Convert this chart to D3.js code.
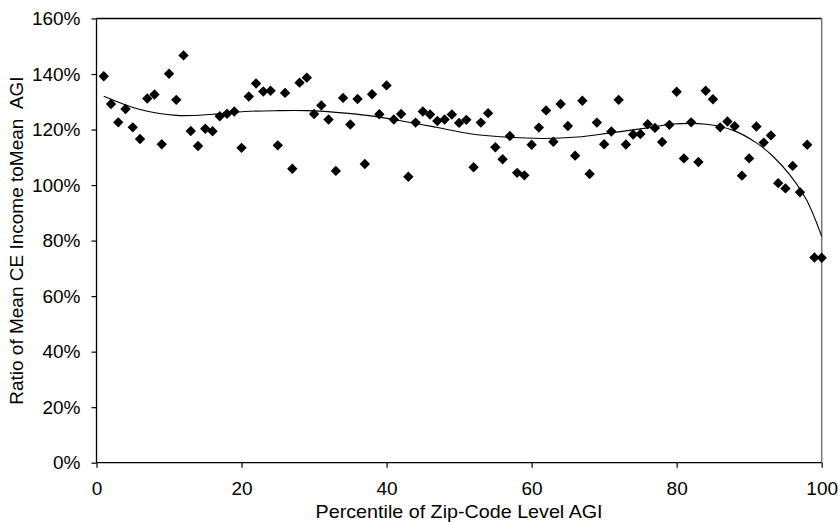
<!doctype html>
<html>
<head>
<style>
body { margin: 0; background: #fff; }
svg { font-family: "Liberation Sans", Arial, sans-serif; }
</style>
<script src="https://d3js.org/d3.v7.min.js"></script>
</head>
<body>
<svg width="840" height="522"></svg>
<script>
// percentile of zip-code level AGI, 1..100
var percentile = d3.range(1, 101);

// ratio of mean CE income to mean AGI (%)
var ratio = [
  139.2, 129.2, 122.6, 127.4, 120.8, 116.6, 131.2, 132.6, 114.7, 140.1,
  130.7, 146.7, 119.5, 114.1, 120.3, 119.4, 124.8, 125.7, 126.5, 113.4,
  131.9, 136.6, 133.7, 134.0, 114.3, 133.2, 105.9, 136.9, 138.7, 125.6,
  128.7, 123.6, 105.1, 131.4, 121.8, 131.0, 107.6, 132.7, 125.5, 135.9,
  123.6, 125.6, 103.0, 122.5, 126.5, 125.4, 123.1, 123.6, 125.4, 122.4,
  123.5, 106.4, 122.5, 125.9, 113.6, 109.3, 117.7, 104.4, 103.5, 114.5,
  120.7, 126.9, 115.6, 129.2, 121.3, 110.6, 130.4, 104.0, 122.5, 114.7,
  119.3, 130.7, 114.6, 118.2, 118.4, 121.9, 120.6, 115.5, 121.7, 133.6,
  109.6, 122.6, 108.3, 134.0, 130.9, 120.8, 122.9, 121.2, 103.4, 109.6,
  121.1, 115.3, 117.9, 100.7, 98.8, 106.9, 97.4, 114.5, 73.9, 73.8
];

// polynomial trend line
var trendX = [1, 6, 11, 16, 20.5, 25, 29, 33, 37.6, 42.3, 46.9, 51.5, 56.2, 61.7, 66.3, 70.9, 76, 79.5, 84.1, 87.8, 91, 93.3, 95.6, 97.9, 100];
var trendY = [132.0, 127.2, 125.1, 125.5, 126.5, 126.8, 126.8, 126.2, 125.0, 123.0, 120.8, 118.5, 117.3, 116.8, 117.3, 118.8, 120.6, 122.0, 121.9, 119.7, 115.2, 110.3, 103.7, 94.7, 81.5];

var xTicks = [0, 20, 40, 60, 80, 100];
var yTicks = [0, 20, 40, 60, 80, 100, 120, 140, 160];

var svg = d3.select("svg");
var pLeft = 96.5, pRight = 821.7, pTop = 18.5, pBottom = 462.7;

var x = d3.scaleLinear().domain([0, 100]).range([pLeft, pRight]);
var y = d3.scaleLinear().domain([0, 160]).range([pBottom, pTop]);

// frame
svg.append("line").attr("x1", pLeft).attr("x2", pRight).attr("y1", pTop).attr("y2", pTop)
   .attr("stroke", "#000").attr("stroke-width", 1.3);
svg.append("line").attr("x1", pRight).attr("x2", pRight).attr("y1", pTop).attr("y2", pBottom)
   .attr("stroke", "#777").attr("stroke-width", 1.5);

var yAxis = svg.append("g")
    .attr("transform", "translate(" + pLeft + ",0)")
    .call(d3.axisLeft(y).tickValues(yTicks).tickSize(5).tickPadding(11)
          .tickFormat(function(d) { return d + "%"; }));

var xAxis = svg.append("g")
    .attr("transform", "translate(0," + pBottom + ")")
    .call(d3.axisBottom(x).tickValues(xTicks).tickSize(5).tickPadding(14));

[xAxis, yAxis].forEach(function(g) {
  g.select(".domain").attr("stroke", "#000").attr("stroke-width", 1.3);
  g.selectAll(".tick line").attr("stroke", "#000").attr("stroke-width", 1.2);
  g.selectAll("text").attr("font-size", 19).attr("fill", "#000")
   .attr("font-family", "'Liberation Sans', Arial, sans-serif");
});
yAxis.select(".domain").attr("d", "M0," + pBottom + "V" + pTop);
xAxis.select(".domain").attr("d", "M" + pLeft + ",0H" + pRight);

// trend line
var line = d3.line()
    .x(function(d, i) { return x(trendX[i]); })
    .y(function(d) { return y(d); })
    .curve(d3.curveCatmullRom);

svg.append("path")
    .datum(trendY)
    .attr("d", line)
    .attr("fill", "none")
    .attr("stroke", "#000")
    .attr("stroke-width", 1.1);

// diamond markers
var r = 5.2;
svg.append("g").selectAll("path")
    .data(ratio)
    .enter().append("path")
    .attr("transform", function(d, i) { return "translate(" + x(percentile[i]) + "," + y(d) + ")"; })
    .attr("d", "M0," + (-r) + "L" + r + ",0L0," + r + "L" + (-r) + ",0Z")
    .attr("fill", "#000");

svg.append("text")
    .attr("x", (pLeft + pRight) / 2)
    .attr("y", 518)
    .attr("text-anchor", "middle")
    .attr("font-size", 18.5)
    .attr("textLength", 287)
    .attr("lengthAdjust", "spacingAndGlyphs")
    .text("Percentile of Zip-Code Level AGI");

svg.append("text")
    .attr("transform", "translate(23," + ((pTop + pBottom) / 2) + ") rotate(-90)")
    .attr("text-anchor", "middle")
    .attr("font-size", 19)
    .style("white-space", "pre")
    .text("Ratio of Mean CE Income toMean  AGI");
</script>
</body>
</html>
